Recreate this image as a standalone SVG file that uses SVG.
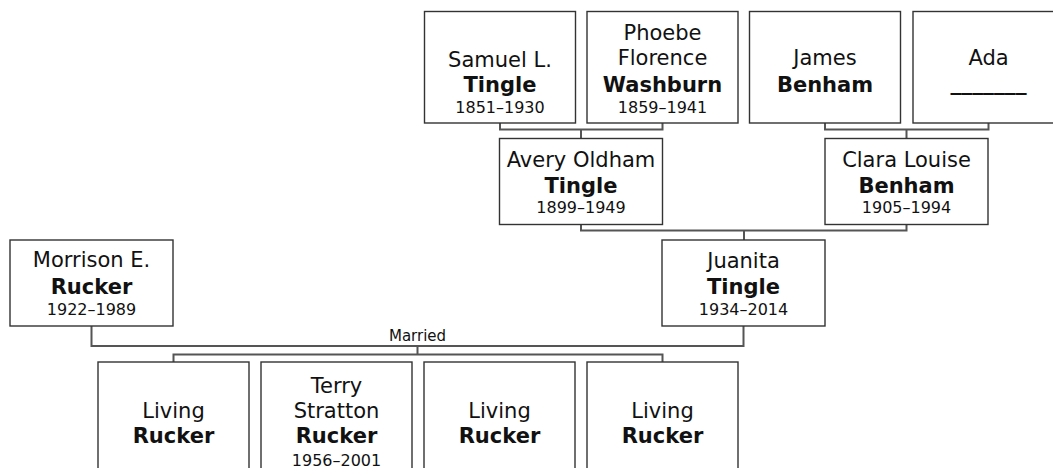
<svg xmlns="http://www.w3.org/2000/svg" width="1053" height="468" viewBox="0 0 1053 468">
<style>
.box{fill:#fff;stroke:#333;stroke-width:1.4}
.con{fill:none;stroke:#555;stroke-width:2}
text{font-family:"DejaVu Sans","Verdana",sans-serif;fill:#111;text-anchor:middle}
.n{font-size:21px}
.s{font-size:21px;font-weight:bold}
.d{font-size:16px}
.lbl{font-size:15px}
</style>
<rect width="1053" height="468" fill="#fff"/>
<g id="connectors">
<path class="con" d="M500 123V129.5H662.5V123M581 129.5V138.5"/>
<path class="con" d="M825 123V129.5H988.5V123M906.5 129.5V138.5"/>
<path class="con" d="M581 224.5V230.5H906.5V224.5M744 230.5V240"/>
<path class="con" d="M91.5 326V346H743.5V326"/>
<path class="con" d="M417.5 346V354.5M173.5 362V354.5H662.5V362"/>
<text class="lbl" x="417.5" y="341">Married</text>
</g>
<g id="samuel">
<rect class="box" x="424.5" y="11.5" width="151" height="111.5"/>
<text class="n" x="500" y="66.7">Samuel L.</text>
<text class="s" x="500" y="91.7">Tingle</text>
<text class="d" x="500" y="113.3">1851–1930</text>
</g>
<g id="phoebe">
<rect class="box" x="587" y="11.5" width="151" height="111.5"/>
<text class="n" x="662.5" y="40">Phoebe</text>
<text class="n" x="662.5" y="65">Florence</text>
<text class="s" x="662.5" y="91.7">Washburn</text>
<text class="d" x="662.5" y="113.3">1859–1941</text>
</g>
<g id="james">
<rect class="box" x="749.5" y="11.5" width="151" height="111.5"/>
<text class="n" x="825" y="65">James</text>
<text class="s" x="825" y="91.7">Benham</text>
</g>
<g id="ada">
<rect class="box" x="913" y="11.5" width="151" height="111.5"/>
<text class="n" x="988.5" y="65">Ada</text>
<text class="s" x="988.5" y="90" textLength="76" lengthAdjust="spacingAndGlyphs">_______</text>
</g>
<g id="avery">
<rect class="box" x="499.5" y="138.5" width="163" height="86"/>
<text class="n" x="581" y="166.7">Avery Oldham</text>
<text class="s" x="581" y="193">Tingle</text>
<text class="d" x="581" y="213.3">1899–1949</text>
</g>
<g id="clara">
<rect class="box" x="825" y="138.5" width="163" height="86"/>
<text class="n" x="906.5" y="166.7">Clara Louise</text>
<text class="s" x="906.5" y="193">Benham</text>
<text class="d" x="906.5" y="213.3">1905–1994</text>
</g>
<g id="morrison">
<rect class="box" x="10" y="240" width="163" height="86"/>
<text class="n" x="91.5" y="267">Morrison E.</text>
<text class="s" x="91.5" y="294">Rucker</text>
<text class="d" x="91.5" y="315">1922–1989</text>
</g>
<g id="juanita">
<rect class="box" x="662" y="240" width="163" height="86"/>
<text class="n" x="743.5" y="267.5">Juanita</text>
<text class="s" x="743.5" y="294">Tingle</text>
<text class="d" x="743.5" y="315">1934–2014</text>
</g>
<g id="child1">
<rect class="box" x="98" y="362" width="151" height="120"/>
<text class="n" x="173.5" y="417.7">Living</text>
<text class="s" x="173.5" y="442.7">Rucker</text>
</g>
<g id="terry">
<rect class="box" x="261" y="362" width="151" height="120"/>
<text class="n" x="336.5" y="393.3">Terry</text>
<text class="n" x="336.5" y="417.7">Stratton</text>
<text class="s" x="336.5" y="442.7">Rucker</text>
<text class="d" x="336.5" y="466">1956–2001</text>
</g>
<g id="child3">
<rect class="box" x="424" y="362" width="151" height="120"/>
<text class="n" x="499.5" y="417.7">Living</text>
<text class="s" x="499.5" y="442.7">Rucker</text>
</g>
<g id="child4">
<rect class="box" x="587" y="362" width="151" height="120"/>
<text class="n" x="662.5" y="417.7">Living</text>
<text class="s" x="662.5" y="442.7">Rucker</text>
</g>
</svg>
